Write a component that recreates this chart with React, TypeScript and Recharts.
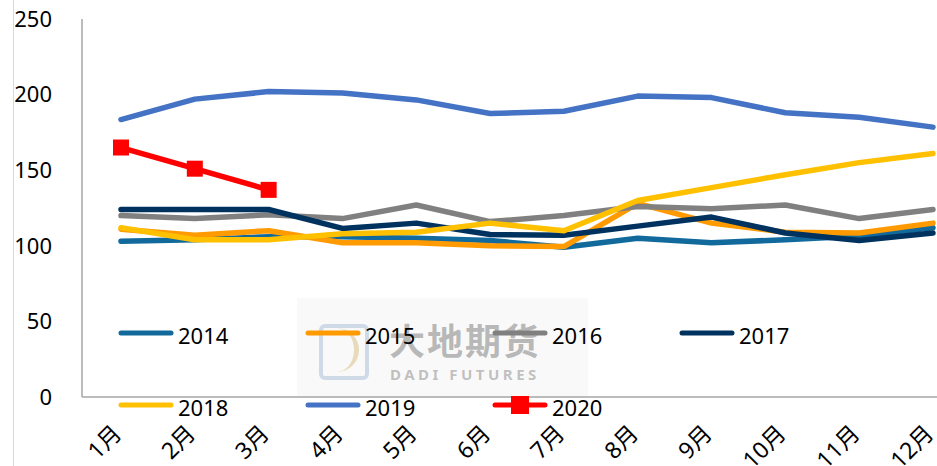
import { LineChart, Line, XAxis, YAxis, Legend } from 'recharts'

const months = ['1月', '2月', '3月', '4月', '5月', '6月', '7月', '8月', '9月', '10月', '11月', '12月']
const years = ['2014', '2015', '2016', '2017', '2018', '2019', '2020']
const yTicks = [0, 50, 100, 150, 200, 250]

const s2014 = [103, 104, 106, 106, 105, 103.5, 99, 105, 102, 104, 106.5, 112]
const s2015 = [111, 107, 110, 102, 102, 100, 99.5, 128, 115, 109, 108.5, 115]
const s2016 = [120, 118, 120.5, 118, 127, 116, 120, 126, 124.5, 127, 118, 124]
const s2017 = [124, 124, 124, 111.5, 115, 107.5, 107, 113, 119, 108.5, 103.5, 108.5]
const s2018 = [112, 104, 104, 108, 109, 115, 110, 130, 138.5, 147, 155, 161]
const s2019 = [183.5, 197, 202, 201, 196.5, 187.5, 189, 199, 198, 188, 185, 178.5]
const s2020 = [165, 151, 137]

const COLORS: Record<string, string> = {
  '2014': '#126A9C',
  '2015': '#FF9A00',
  '2016': '#808080',
  '2017': '#00325F',
  '2018': '#FFC000',
  '2019': '#4472C4',
  '2020': '#FF0000',
}

const series = [s2014, s2015, s2016, s2017, s2018, s2019, s2020]
const data = months.map((m, i) => {
  const row: Record<string, string | number | undefined> = { month: m }
  years.forEach((y, k) => { row[y] = series[k][i] })
  return row
})

const FONT = '"Noto Sans", "Noto Sans CJK SC", sans-serif'

const MonthTick = ({ x, y, payload }: any) => (
  <g transform={`translate(${x + 2},${y + 38})`}>
    <text textAnchor="end" transform="rotate(-45)" fontSize={23} fontFamily={FONT} fill="#000">
      {payload.value}
    </text>
  </g>
)

const SquareDot = ({ cx, cy }: any) => {
  if (cx == null || cy == null) return null
  return <rect x={cx - 8} y={cy - 8} width={16} height={16} fill={COLORS['2020']} />
}

const LegendGrid = ({ payload }: any) => (
  <div style={{ display: 'grid', gridTemplateColumns: 'repeat(4, 187px)' }}>
    {(payload || []).map((e: any) => (
      <div key={e.value} style={{ display: 'flex', alignItems: 'center', height: 72 }}>
        <svg width={56} height={20}>
          <line x1={3} x2={53} y1={10} y2={10} stroke={e.color} strokeWidth={5} strokeLinecap="round" />
          {e.value === '2020' && <rect x={19} y={1} width={18} height={18} fill={e.color} />}
        </svg>
        <span style={{ marginLeft: 4, fontSize: 22, fontFamily: FONT, color: '#000', lineHeight: 1, position: 'relative', top: 2 }}>
          {e.value}
        </span>
      </div>
    ))}
  </div>
)

const Watermark = () => (
  <div style={{ position: 'absolute', left: 297, top: 298, width: 291, height: 99, background: 'rgba(238,238,238,0.35)' }}>
    <div style={{ position: 'absolute', left: 22, top: 26, width: 50, height: 56, border: '4px solid rgba(190,205,225,0.7)', borderRadius: 6, boxSizing: 'border-box' }} />
    <div style={{ position: 'absolute', left: 32, top: 30, width: 30, height: 44, borderRight: '5px solid rgba(225,205,160,0.7)', borderRadius: '0 22px 22px 0', boxSizing: 'border-box' }} />
    <div style={{ position: 'absolute', left: 92, top: 22, fontSize: 36, fontWeight: 700, fontFamily: '"Noto Sans CJK SC", sans-serif', color: 'rgba(120,120,120,0.5)', letterSpacing: 2, lineHeight: 1.1 }}>
      大地期货
    </div>
    <div style={{ position: 'absolute', left: 93, top: 66, fontSize: 15, fontWeight: 700, fontFamily: FONT, color: 'rgba(120,120,120,0.45)', letterSpacing: 3.5 }}>
      DADI FUTURES
    </div>
  </div>
)

export default function App() {
  return (
    <div style={{ position: 'absolute', left: 0, top: 0, width: 937, height: 466, background: '#fff', overflow: 'hidden' }}>
      <div style={{ position: 'absolute', left: 13, top: 0, width: 1, height: 466, background: '#d9d9d9' }} />
      <Watermark />
      <div style={{ position: 'absolute', left: 0, top: 0 }}>
        <LineChart width={937} height={466} data={data} margin={{ top: 19, right: 0, bottom: 0, left: 0 }}>
          <XAxis dataKey="month" height={69} padding={{ left: 39, right: 4 }}
            axisLine={{ stroke: '#a6a6a6', strokeWidth: 1.5 }} tickLine={false} tickSize={0} tickMargin={0}
            tick={<MonthTick />} interval={0} />
          <YAxis domain={[0, 250]} ticks={yTicks} width={82}
            axisLine={{ stroke: '#a6a6a6', strokeWidth: 1.5 }} tickLine={false} tickSize={0} tickMargin={30}
            tick={{ fontSize: 22, fontFamily: FONT, fill: '#000' }} />
          <Legend layout="horizontal" verticalAlign="middle" content={<LegendGrid />}
            wrapperStyle={{ position: 'absolute', left: 118, top: 297, width: 760 }} />
          {years.map((y) => (
            <Line key={y} type="linear" dataKey={y} stroke={COLORS[y]} strokeWidth={5.5}
              strokeLinecap="round" strokeLinejoin="round"
              dot={y === '2020' ? <SquareDot /> : false} activeDot={false}
              isAnimationActive={false} />
          ))}
        </LineChart>
      </div>
    </div>
  )
}
